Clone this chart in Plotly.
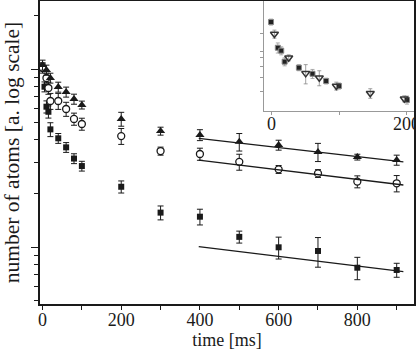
import plotly.graph_objects as go

# ---- main panel data (relative atom number, log axis) ----
t_tri = [0, 10, 20, 40, 60, 80, 100, 200, 300, 400, 500, 600, 700, 800, 900]
v_tri = [1.053, 0.987, 0.890, 0.792, 0.743, 0.678, 0.628, 0.524, 0.448, 0.426, 0.390, 0.374, 0.342, 0.320, 0.308]
e_tri = [0.068, 0.064, 0.057, 0.051, 0.048, 0.044, 0.032, 0.047, 0.023, 0.030, 0.044, 0.024, 0.040, 0.012, 0.020]

t_circ = [0, 10, 15, 20, 40, 60, 80, 100, 200, 300, 400, 500, 600, 700, 800, 900]
v_circ = [1.013, 0.890, 0.782, 0.661, 0.661, 0.596, 0.524, 0.491, 0.420, 0.346, 0.333, 0.301, 0.273, 0.259, 0.233, 0.228]
e_circ = [0.065, 0.057, 0.061, 0.068, 0.068, 0.054, 0.041, 0.038, 0.043, 0.018, 0.026, 0.031, 0.014, 0.013, 0.018, 0.024]

t_sq = [0, 5, 10, 15, 20, 40, 60, 80, 100, 200, 300, 400, 500, 600, 700, 800, 900]
v_sq = [1.030, 0.795, 0.614, 0.575, 0.458, 0.408, 0.363, 0.314, 0.285, 0.218, 0.156, 0.148, 0.114, 0.0996, 0.0950, 0.0765, 0.0743]
e_sq = [0.053, 0.051, 0.048, 0.045, 0.041, 0.026, 0.023, 0.020, 0.018, 0.017, 0.014, 0.015, 0.0088, 0.014, 0.018, 0.011, 0.0067]

# exponential fits (endpoints of the straight lines on the log axis)
fit_t = [397, 917]
fit_tri = [0.408, 0.301]
fit_circ = [0.308, 0.223]
fit_sq = [0.1004, 0.0727]

# ---- inset data ----
in_sq_t = [0, 10, 15, 20, 41, 61, 81, 100, 200]
in_sq_v = [1.0, 0.600, 0.566, 0.455, 0.404, 0.358, 0.310, 0.281, 0.213]
in_sq_e = [0.060, 0.060, 0.045, 0.036, 0.024, 0.032, 0.018, 0.017, 0.017]

in_td_t = [5, 26, 51, 71, 96, 146, 196]
in_td_v = [0.788, 0.492, 0.361, 0.331, 0.281, 0.243, 0.218]
in_td_e = [0.063, 0.029, 0.068, 0.049, 0.022, 0.023, 0.013]

x_ticks = [0, 200, 400, 600, 800]
x_minor = [100, 300, 500, 700, 900]
y_major = [0.1, 1]
y_minor = [0.05, 0.06, 0.07, 0.08, 0.09, 0.2, 0.3, 0.4, 0.5, 0.6, 0.7, 0.8, 0.9, 2]
in_x_ticks = [0, 200]
in_x_labels = ["0", "200"]
in_x_minor = [100]
in_y_ticks = [0.8, 0.56, 0.49, 0.41, 0.33, 0.25]

FONT = "Liberation Serif"
BLK = "#1a1a1a"

fig = go.Figure()

def err(e, col=BLK, w=3, th=1):
    return dict(type="data", array=e, visible=True, color=col, thickness=th, width=w)

fig.add_trace(go.Scatter(x=t_sq, y=v_sq, mode="markers", error_y=err(e_sq),
                         marker=dict(symbol="square", size=6, color=BLK, line=dict(width=0))))
fig.add_trace(go.Scatter(x=t_circ, y=v_circ, mode="markers", error_y=err(e_circ),
                         marker=dict(symbol="circle", size=7, color="white", line=dict(width=1.3, color=BLK))))
fig.add_trace(go.Scatter(x=t_tri, y=v_tri, mode="markers", error_y=err(e_tri),
                         marker=dict(symbol="triangle-up", size=8, color=BLK, line=dict(width=0))))

for fv in (fit_tri, fit_circ, fit_sq):
    fig.add_trace(go.Scatter(x=fit_t, y=fv, mode="lines", line=dict(color=BLK, width=1.3)))

# inset
fig.add_trace(go.Scatter(x=in_sq_t, y=in_sq_v, mode="markers", xaxis="x2", yaxis="y2",
                         error_y=err(in_sq_e, col="#999999", w=2, th=0.8),
                         marker=dict(symbol="square", size=5, color="#222222", line=dict(width=1, color="#888888"))))
fig.add_trace(go.Scatter(x=in_td_t, y=in_td_v, mode="markers", xaxis="x2", yaxis="y2",
                         error_y=err(in_td_e, col="#888888", w=2, th=0.8),
                         marker=dict(symbol="triangle-down-open", size=7, color="#333333", line=dict(width=1.5))))

# inset tick labels as annotations (so the right one may run off the page like the original)
for tv, tl in zip(in_x_ticks, in_x_labels):
    fig.add_annotation(x=tv, xref="x2", y=0.637, yref="paper", text=tl, showarrow=False,
                       xanchor="center", yanchor="top", yshift=-1,
                       font=dict(family=FONT, size=18, color=BLK))

fig.update_layout(
    width=416, height=352,
    margin=dict(l=40, r=2, t=1, b=48),
    paper_bgcolor="white", plot_bgcolor="white",
    showlegend=False,
    font=dict(family=FONT, size=18, color=BLK),
    xaxis=dict(range=[-6.4, 944], tickmode="array", tickvals=x_ticks, automargin=False,
               ticks="outside", ticklen=4, tickwidth=1.2, tickcolor=BLK, ticklabelstandoff=-5,
               minor=dict(tickmode="array", tickvals=x_minor, ticks="outside", ticklen=4, tickcolor=BLK),
               showline=True, linecolor=BLK, linewidth=1.5, mirror=True,
               showgrid=False, zeroline=False,
               tickfont=dict(family=FONT, size=18, color=BLK),
               title=dict(text="time [ms]", font=dict(family=FONT, size=18, color=BLK), standoff=4)),
    yaxis=dict(type="log", range=[-1.3202, 0.382], tickmode="array", tickvals=y_major, automargin=False,
               showticklabels=False, ticks="outside", ticklen=7, tickwidth=1.2, tickcolor=BLK,
               minor=dict(tickmode="array", tickvals=y_minor, ticks="outside", ticklen=4, tickcolor=BLK),
               showline=True, linecolor=BLK, linewidth=1.5, mirror=True,
               showgrid=False, zeroline=False,
               title=dict(text="number of atoms [a. log scale]", font=dict(family=FONT, size=21.5, color=BLK), standoff=12)),
    xaxis2=dict(domain=[0.599, 1.0], anchor="y2", range=[-10.3, 210.3], tickmode="array", tickvals=in_x_ticks,
                showticklabels=False, automargin=False,
                ticks="outside", ticklen=3, tickcolor="#999999",
                minor=dict(tickmode="array", tickvals=in_x_minor, ticks="outside", ticklen=3, tickcolor="#999999"),
                showline=True, linecolor="#999999", linewidth=1,
                showgrid=False, zeroline=False),
    yaxis2=dict(domain=[0.637, 1.0], anchor="x2", type="log", range=[-0.767, 0.181], automargin=False,
                tickmode="array", tickvals=in_y_ticks, showticklabels=False,
                ticks="outside", ticklen=3, tickcolor="#999999",
                showline=True, linecolor="#999999", linewidth=1,
                showgrid=False, zeroline=False),
)

fig.write_html("out.html", config={"displayModeBar": False},
               post_script="document.body.style.margin='0';document.body.style.padding='0';")
